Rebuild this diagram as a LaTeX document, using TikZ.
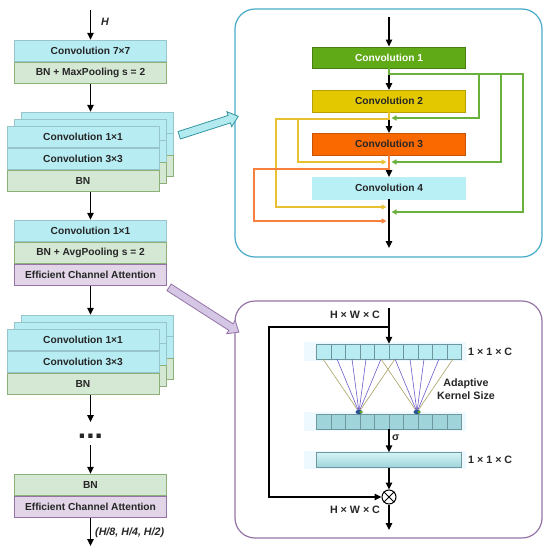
\documentclass[tikz,border=0pt]{standalone}
\usepackage{fontspec}
\setmainfont{Liberation Sans}
\usetikzlibrary{arrows.meta, positioning, shapes.arrows, calc}

\definecolor{cyanfill}{RGB}{182,236,242}
\definecolor{cyanline}{RGB}{150,198,204}
\definecolor{greenfill}{RGB}{213,232,212}
\definecolor{greenline}{RGB}{140,176,120}
\definecolor{purplefill}{RGB}{225,213,231}
\definecolor{purpleline}{RGB}{150,115,166}
\definecolor{panelblue}{RGB}{70,170,200}
\definecolor{convgreen}{RGB}{96,169,23}
\definecolor{convyellow}{RGB}{227,200,0}
\definecolor{convorange}{RGB}{250,104,0}
\definecolor{convcyan}{RGB}{185,240,245}
\definecolor{linegreen}{RGB}{106,176,60}
\definecolor{lineyellow}{RGB}{232,192,50}
\definecolor{lineorange}{RGB}{246,128,60}
\definecolor{barlight}{RGB}{184,236,242}
\definecolor{bardark}{RGB}{158,212,218}
\definecolor{barline}{RGB}{110,150,158}
\definecolor{kernolive}{RGB}{170,160,100}
\definecolor{kernpurple}{RGB}{110,90,200}
\definecolor{blobblue}{RGB}{40,80,150}
\definecolor{arrowcyan}{RGB}{178,234,240}
\definecolor{arrowteal}{RGB}{50,150,160}
\definecolor{arrowlilac}{RGB}{212,198,228}

\tikzset{
  box/.style={draw, minimum width=152, minimum height=21.5, inner sep=0,
    font=\fontsize{10.2}{12}\selectfont\bfseries, text=black!85},
  cbox/.style={box, draw=cyanline, fill=cyanfill},
  gbox/.style={box, draw=greenline, fill=greenfill},
  pbox/.style={box, draw=purpleline, fill=purplefill},
  rbox/.style={box, minimum width=153},
  bar/.style={draw=barline, minimum width=145, minimum height=15, inner sep=0},
  lbl/.style={font=\fontsize{10.7}{13}\selectfont\bfseries, text=black!85, inner sep=1},
  ilbl/.style={lbl, font=\fontsize{10.7}{13}\selectfont\bfseries\itshape},
  arr/.style={line width=1.4, -{Triangle[length=7pt,width=6.5pt]}},
  carr/.style={line width=1.3, -{Triangle[length=5pt,width=5pt]}, shorten >=2.5pt},
  panel/.style={line width=1.2, rounded corners=20, minimum width=307},
  bigarrow/.style={single arrow, line width=0.8, inner xsep=0, inner ysep=3.5,
    single arrow head extend=4, single arrow tip angle=80}
}

\begin{document}
\begin{tikzpicture}[x=1pt, y=-1pt]
  \useasboundingbox (0,0) rectangle (550,549);

  % backbone column
  \coordinate (in) at (90.5,10);
  \node (conv7) [cbox] at (90.5,50.75) {Convolution 7×7};
  \node (bnmax) [gbox, below=0pt of conv7] {BN + MaxPooling s = 2};
  \node (hin) [ilbl, anchor=west] at (100,22) {H};

  % first residual stack
  \foreach \d in {14,7} {
    \node (s1back\d) [cbox] at (83+\d,136.75-\d) {};
    \node [cbox] at (83+\d,158.25-\d) {};
    \node [gbox] at (83+\d,179.75-\d) {};
  }
  \node (s1conv1) [cbox] at (83,136.75) {Convolution 1×1};
  \node (s1conv3) [cbox, below=0pt of s1conv1] {Convolution 3×3};
  \node (s1bn) [gbox, below=0pt of s1conv3] {BN};

  % transition block
  \node (tconv) [cbox] at (90.5,230.75) {Convolution 1×1};
  \node (tbn) [gbox, below=0pt of tconv] {BN + AvgPooling s = 2};
  \node (teca) [pbox, below=0pt of tbn] {Efficient Channel Attention};

  % second residual stack
  \foreach \d in {14,7} {
    \node (s2back\d) [cbox] at (83+\d,339.75-\d) {};
    \node [cbox] at (83+\d,361.25-\d) {};
    \node [gbox] at (83+\d,382.75-\d) {};
  }
  \node (s2conv1) [cbox] at (83,339.75) {Convolution 1×1};
  \node (s2conv3) [cbox, below=0pt of s2conv1] {Convolution 3×3};
  \node (s2bn) [gbox, below=0pt of s2conv3] {BN};

  \node (dots) [lbl, font=\fontsize{30}{30}\selectfont\bfseries, inner sep=0, anchor=base] at (90.5,438) {...};

  % last block
  \node (lbn) [gbox] at (90.5,484.75) {BN};
  \node (leca) [pbox, below=0pt of lbn] {Efficient Channel Attention};
  \coordinate (out) at (90.5,546);
  \node (hout) [ilbl, anchor=west] at (94,533) {(H/8, H/4, H/2)};

  \draw[arr] (in) -- (conv7.north);
  \draw[arr] (bnmax.south) -- (bnmax.south |- s1back14.north);
  \draw[arr] (s1bn.south -| tconv.north) -- (tconv.north);
  \draw[arr] (teca.south) -- (teca.south |- s2back14.north);
  \draw[arr] (s2bn.south -| tconv.north) -- (90.5,422);
  \draw[arr] (90.5,445) -- (lbn.north);
  \draw[arr] (leca.south) -- (out);

  % residual block detail
  \node (respanel) [panel, draw=panelblue, minimum height=248] at (388.5,133) {};
  \coordinate (resin) at (389,17);
  \coordinate (resout) at (389,248);
  \node (rconv1) [rbox, fill=convgreen, draw=convgreen!75!black, text=white] at (389,57.5) {Convolution 1};
  \node (rconv2) [rbox, fill=convyellow, draw=convyellow!80!black] at (389,101) {Convolution 2};
  \node (rconv3) [rbox, fill=convorange, draw=convorange!80!black] at (389,144) {Convolution 3};
  \node (rconv4) [rbox, fill=convcyan, draw=convcyan] at (389,188) {Convolution 4};
  \coordinate (j2) at (389,118);
  \coordinate (j3) at (389,162);
  \coordinate (j4y) at (389,207);
  \coordinate (j4g) at (389,212);
  \coordinate (j4o) at (389,221);

  \draw[arr] (resin) -- (rconv1);
  \draw[arr] (rconv1) -- (rconv2);
  \draw[arr] (rconv2) -- (rconv3);
  \draw[arr] (rconv3) -- (rconv4);
  \draw[arr] (rconv4) -- (resout);

  \draw[carr, linegreen] (rconv1.south) |- (479,74) |- (j2);
  \draw[carr, linegreen] (rconv1.south) |- (501,74) |- (j3);
  \draw[carr, linegreen] (rconv1.south) |- (523,74) |- (j4g);
  \draw[carr, lineyellow] (rconv2.south) |- (298,119) |- (j3);
  \draw[carr, lineyellow] (rconv2.south) |- (276,119) |- (j4y);
  \draw[carr, lineorange] (rconv3.south) |- (254,169) |- (j4o);

  % ECA detail
  \node (ecapanel) [panel, draw=purpleline, minimum height=237] at (388.5,419.5) {};
  \coordinate (ecain) at (389,308);
  \coordinate (skip) at (389,327);
  \coordinate (ecaout) at (389,530);
  \node (hwcin) [lbl] at (355,315) {H × W × C};

  \fill[cyan!7] (304,342) rectangle (466,361);
  \fill[cyan!7] (304,412) rectangle (466,431);
  \fill[cyan!7] (304,451) rectangle (466,469);
  \node (pool) [bar, fill=barlight] at (389,351.5) {};
  \node (kernel) [bar, fill=bardark] at (389,421.5) {};
  \node (weights) [bar, top color=barlight!60!white, bottom color=bardark] at (389,460) {};
  \foreach \i in {1,...,9} {
    \draw[barline] ($(pool.north west)+(14.5*\i,0)$) -- ($(pool.south west)+(14.5*\i,0)$);
    \draw[barline] ($(kernel.north west)+(14.5*\i,0)$) -- ($(kernel.south west)+(14.5*\i,0)$);
  }
  \node (poolsize) [lbl, anchor=west] at (467,352) {1 × 1 × C};
  \node (wsize) [lbl, anchor=west] at (467,460) {1 × 1 × C};
  \node (ksize) [lbl, align=center] at (466,389) {Adaptive\\Kernel Size};

  \coordinate (kl) at (359,412);
  \coordinate (kr) at (417,412);
  \foreach \f in {kl,kr}
    \foreach \o/\c in {-36/kernolive, -22/kernpurple, -7/kernpurple, 7/kernpurple, 22/kernpurple, 36/kernolive}
      \draw[\c, line width=0.6] (\f) -- ++(\o,-53);
  \fill[blobblue] (kl) ellipse (3.5 and 2.2);
  \fill[blobblue] (kr) ellipse (3.5 and 2.2);
  \fill[convgreen] ($(kl)+(2,0)$) ellipse (1.8 and 1.5);
  \fill[convgreen] ($(kr)+(2,0)$) ellipse (1.8 and 1.5);

  \node (otimes) [draw, circle, minimum size=14, inner sep=0, line width=1] at (389,497) {};
  \draw[line width=0.9] (otimes.north east) -- (otimes.south west);
  \draw[line width=0.9] (otimes.north west) -- (otimes.south east);
  \node (hwcout) [lbl] at (355,510) {H × W × C};

  \draw[arr] (ecain) -- (ecain |- pool.north);
  \draw[arr] (kernel.south) -- (weights.north);
  \node (sigma) [lbl, anchor=west] at (391,438) {σ};
  \draw[arr] (weights.south) -- (otimes.north);
  \draw[arr] (skip) -- (269,327) |- (otimes.west);
  \draw[arr] (otimes.south) -- (ecaout);

  % zoom arrows
  \node (toresblock) [bigarrow, draw=arrowteal, fill=arrowcyan, minimum height=62, rotate=17.8] at (206.5,126.5) {};
  \node (toecablock) [bigarrow, draw=purpleline, fill=arrowlilac, minimum height=83, rotate=-32.7] at (202,308.5) {};
\end{tikzpicture}
\end{document}
